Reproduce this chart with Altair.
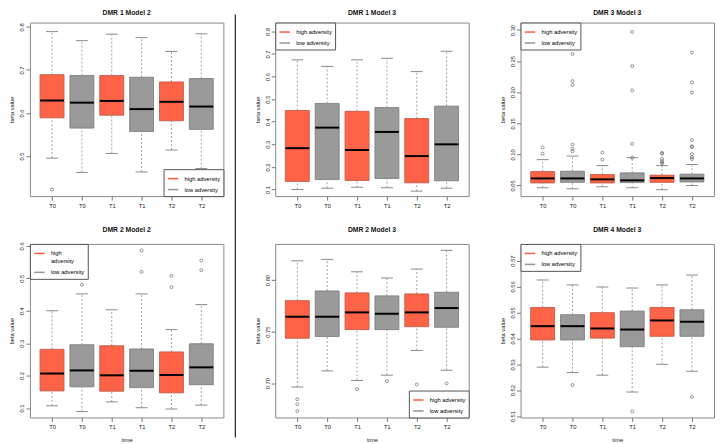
import json
import altair as alt
import pandas as pd

TIME_LABELS = ["T0", "T0", "T1", "T1", "T2", "T2"]
GROUPS = ["high adversity", "low adversity"] * 3
GROUP_NAMES = ["high adversity", "low adversity"]
COLORS = ["#FF6347", "#9A9A9A"]

# ---- DMR 1 Model 2
p1_lo = [0.495, 0.462, 0.506, 0.463, 0.514, 0.471]
p1_q1 = [0.589, 0.565, 0.595, 0.557, 0.582, 0.562]
p1_med = [0.629, 0.624, 0.628, 0.609, 0.626, 0.615]
p1_q3 = [0.689, 0.687, 0.687, 0.683, 0.672, 0.680]
p1_hi = [0.789, 0.768, 0.783, 0.775, 0.743, 0.784]
p1_out_box = [1]
p1_out_val = [0.422]
p1_ticks = [0.5, 0.6, 0.7, 0.8]

# ---- DMR 1 Model 3
p2_lo = [0.100, 0.106, 0.110, 0.108, 0.093, 0.106]
p2_q1 = [0.136, 0.144, 0.140, 0.149, 0.130, 0.139]
p2_med = [0.283, 0.374, 0.275, 0.355, 0.248, 0.300]
p2_q3 = [0.450, 0.481, 0.446, 0.463, 0.414, 0.469]
p2_hi = [0.674, 0.645, 0.674, 0.681, 0.622, 0.712]
p2_out_box = []
p2_out_val = []
p2_ticks = [0.1, 0.2, 0.3, 0.4, 0.5, 0.6, 0.7, 0.8]

# ---- DMR 3 Model 3
p3_lo = [0.0464, 0.0448, 0.0480, 0.0464, 0.0432, 0.0500]
p3_q1 = [0.0542, 0.0552, 0.0542, 0.0547, 0.0552, 0.0557]
p3_med = [0.0614, 0.0614, 0.0599, 0.0583, 0.0620, 0.0614]
p3_q3 = [0.0724, 0.0729, 0.0677, 0.0703, 0.0666, 0.0682]
p3_hi = [0.0916, 0.0973, 0.0820, 0.0947, 0.0820, 0.0838]
p3_out_box = [1, 1,
              2, 2, 2, 2, 2, 2,
              3, 3,
              4, 4, 4, 4, 4,
              5, 5, 5, 5, 5, 5,
              6, 6, 6, 6, 6, 6, 6, 6, 6]
p3_out_val = [0.111, 0.101,
              0.2615, 0.2179, 0.2116, 0.116, 0.109, 0.105,
              0.103, 0.0916,
              0.297, 0.242, 0.203, 0.117, 0.095,
              0.1025, 0.101, 0.093, 0.089, 0.087, 0.0853,
              0.264, 0.216, 0.1997, 0.123, 0.113, 0.112, 0.1004, 0.0957, 0.0926]
p3_ticks = [0.05, 0.10, 0.15, 0.20, 0.25, 0.30]

# ---- DMR 2 Model 2
p4_lo = [0.107, 0.089, 0.119, 0.101, 0.097, 0.109]
p4_q1 = [0.153, 0.1655, 0.152, 0.163, 0.147, 0.172]
p4_med = [0.2065, 0.216, 0.201, 0.215, 0.202, 0.2255]
p4_q3 = [0.281, 0.295, 0.292, 0.282, 0.273, 0.298]
p4_hi = [0.400, 0.452, 0.403, 0.452, 0.342, 0.419]
p4_out_box = [1, 2, 2, 4, 4, 5, 5, 6, 6]
p4_out_val = [0.502, 0.579, 0.480, 0.586, 0.520, 0.508, 0.473, 0.555, 0.525]
p4_ticks = [0.1, 0.2, 0.3, 0.4, 0.5, 0.6]

# ---- DMR 2 Model 3
p5_lo = [0.6962, 0.7119, 0.7026, 0.7077, 0.7317, 0.7125]
p5_q1 = [0.7436, 0.7452, 0.7519, 0.7519, 0.7548, 0.7542]
p5_med = [0.7644, 0.7644, 0.7686, 0.7673, 0.7686, 0.7728]
p5_q3 = [0.7800, 0.7894, 0.7875, 0.7846, 0.7865, 0.7881]
p5_hi = [0.8186, 0.8200, 0.8080, 0.8020, 0.8106, 0.8288]
p5_out_box = [1, 1, 1, 3, 4, 5, 6]
p5_out_val = [0.6843, 0.6795, 0.6728, 0.6942, 0.7019, 0.6987, 0.6997]
p5_ticks = [0.70, 0.75, 0.80]

# ---- DMR 4 Model 3
p6_lo = [0.5289, 0.5268, 0.5258, 0.5193, 0.5300, 0.5273]
p6_q1 = [0.5394, 0.5394, 0.5401, 0.5368, 0.5408, 0.5408]
p6_med = [0.5447, 0.5447, 0.5438, 0.5434, 0.5469, 0.5464]
p6_q3 = [0.5519, 0.5491, 0.5499, 0.5505, 0.5519, 0.5510]
p6_hi = [0.5625, 0.5606, 0.5598, 0.5594, 0.5606, 0.5644]
p6_out_box = [2, 4, 6]
p6_out_val = [0.522, 0.5118, 0.5174]
p6_ticks = [0.51, 0.52, 0.53, 0.54, 0.55, 0.56, 0.57]

W = 194
H = 174
ROW_GAP = 48
COL_GAP = 52
FONT = "Liberation Sans"
FS = 5.8


def make_panel(title, lo, q1, med, q3, hi, out_box, out_val, ticks, domain, fmt,
               legend_orient, xtitle, title_y, wrap_legend=False, separator=False):
    df = pd.DataFrame({
        "pos": list(range(1, len(lo) + 1)),
        "time": TIME_LABELS,
        "group": GROUPS,
        "lo": lo, "q1": q1, "med": med, "q3": q3, "hi": hi,
    })
    base = alt.Chart(df).transform_calculate(
        xl="datum.pos - 0.4", xr="datum.pos + 0.4",
        cl="datum.pos - 0.2", cr="datum.pos + 0.2",
    )
    xs = alt.Scale(domain=[0.26, 6.74], nice=False, zero=False)
    ys = alt.Scale(domain=domain, nice=False, zero=False)
    label_expr = json.dumps(TIME_LABELS) + "[datum.value - 1]"
    xaxis = alt.Axis(values=list(range(1, 7)), labelExpr=label_expr, title=xtitle,
                     tickSize=4, labelPadding=2, titlePadding=7)
    yaxis = alt.Axis(values=ticks, format=fmt, title="beta value", labelAngle=270,
                     labelAlign="center", labelBaseline="bottom", labelPadding=1,
                     tickSize=4, titlePadding=4)

    def X(f):
        return alt.X(f, type="quantitative", scale=xs, axis=xaxis)

    def Y(f):
        return alt.Y(f, type="quantitative", scale=ys, axis=yaxis)

    whisk_hi = base.mark_rule(strokeDash=[2, 2], color="#8c8c8c", strokeWidth=0.8).encode(
        x=X("pos"), y=Y("q3"), y2="hi:Q")
    whisk_lo = base.mark_rule(strokeDash=[2, 2], color="#8c8c8c", strokeWidth=0.8).encode(
        x=X("pos"), y=Y("lo"), y2="q1:Q")
    cap_hi = base.mark_rule(color="#8c8c8c", strokeWidth=1).encode(
        x=X("cl"), x2="cr:Q", y=Y("hi"))
    cap_lo = base.mark_rule(color="#8c8c8c", strokeWidth=1).encode(
        x=X("cl"), x2="cr:Q", y=Y("lo"))
    leg = dict(title=None, orient=legend_orient, offset=0, padding=3,
               strokeColor="#555555", fillColor="white", symbolType="stroke",
               symbolStrokeWidth=1.6, symbolSize=110, labelFontSize=FS,
               labelFont=FONT, rowPadding=1, labelOffset=5, cornerRadius=0)
    if wrap_legend:
        leg["labelExpr"] = "datum.label == 'high adversity' ? ['high', 'adversity'] : datum.label"
    cscale = alt.Scale(domain=GROUP_NAMES, range=COLORS)
    boxes = base.mark_rect(strokeWidth=0.8).encode(
        x=X("xl"), x2="xr:Q", y=Y("q1"), y2="q3:Q",
        fill=alt.Fill("group:N", scale=cscale, legend=alt.Legend(**leg)),
        stroke=alt.Stroke("group:N", scale=cscale, legend=alt.Legend(**leg)),
    )
    outline = base.mark_rect(filled=False, stroke="#505050", strokeWidth=0.7,
                             strokeOpacity=0.45).encode(
        x=X("xl"), x2="xr:Q", y=Y("q1"), y2="q3:Q")
    medians = base.mark_rule(color="black", strokeWidth=2).encode(
        x=X("xl"), x2="xr:Q", y=Y("med"))
    layers = [whisk_hi, whisk_lo, cap_hi, cap_lo, boxes, outline, medians]
    if out_val:
        odf = pd.DataFrame({"pos": out_box, "val": out_val})
        outs = alt.Chart(odf).mark_point(shape="circle", filled=False, size=9,
                                          color="#555555", strokeWidth=0.6, opacity=1).encode(
            x=X("pos"), y=Y("val"))
        layers.append(outs)
    ttl = alt.Chart(pd.DataFrame({"t": [title]})).mark_text(
        font=FONT, fontSize=6.8, fontWeight="bold", color="#111111",
        align="center", baseline="middle").encode(
        text="t:N", x=alt.value(W / 2), y=alt.value(title_y))
    layers.append(ttl)
    if separator:
        sep = alt.Chart(pd.DataFrame({"k": [0]})).mark_rule(color="#333333", strokeWidth=1.3).encode(
            x=alt.value(W + 12), y=alt.value(-8), y2=alt.value(H + ROW_GAP + H + 20))
        layers.append(sep)
    return alt.layer(*layers).properties(width=W, height=H)


panels = [
    make_panel("DMR 1 Model 2", p1_lo, p1_q1, p1_med, p1_q3, p1_hi, p1_out_box, p1_out_val,
               p1_ticks, [0.407, 0.81], ".1f", "bottom-right", None, -10, separator=True),
    make_panel("DMR 1 Model 3", p2_lo, p2_q1, p2_med, p2_q3, p2_hi, p2_out_box, p2_out_val,
               p2_ticks, [0.071, 0.839], ".1f", "top-left", None, -10),
    make_panel("DMR 3 Model 3", p3_lo, p3_q1, p3_med, p3_q3, p3_hi, p3_out_box, p3_out_val,
               p3_ticks, [0.033, 0.312], ".2f", "top-left", None, -10),
    make_panel("DMR 2 Model 2", p4_lo, p4_q1, p4_med, p4_q3, p4_hi, p4_out_box, p4_out_val,
               p4_ticks, [0.071, 0.606], ".1f", "top-left", "time", -14, wrap_legend=True),
    make_panel("DMR 2 Model 3", p5_lo, p5_q1, p5_med, p5_q3, p5_hi, p5_out_box, p5_out_val,
               p5_ticks, [0.6667, 0.835], ".2f", "bottom-right", "time", -14),
    make_panel("DMR 4 Model 3", p6_lo, p6_q1, p6_med, p6_q3, p6_hi, p6_out_box, p6_out_val,
               p6_ticks, [0.5095, 0.5764], ".2f", "top-left", "time", -14),
]

chart = alt.concat(*panels, columns=3, spacing={"row": ROW_GAP, "column": COL_GAP},
                   bounds="flush").resolve_scale(
    x="independent", y="independent", fill="independent", stroke="independent"
).configure_view(
    stroke="#8a8a8a", strokeWidth=1
).configure_axis(
    domain=False, grid=False, tickColor="#777777", labelColor="#222222",
    titleColor="#222222", labelFont=FONT, titleFont=FONT, labelFontSize=FS,
    titleFontSize=FS, titleFontWeight="normal"
).properties(background="white", padding=0)

chart.save("out.html", embed_options={"renderer": "svg", "actions": False})
